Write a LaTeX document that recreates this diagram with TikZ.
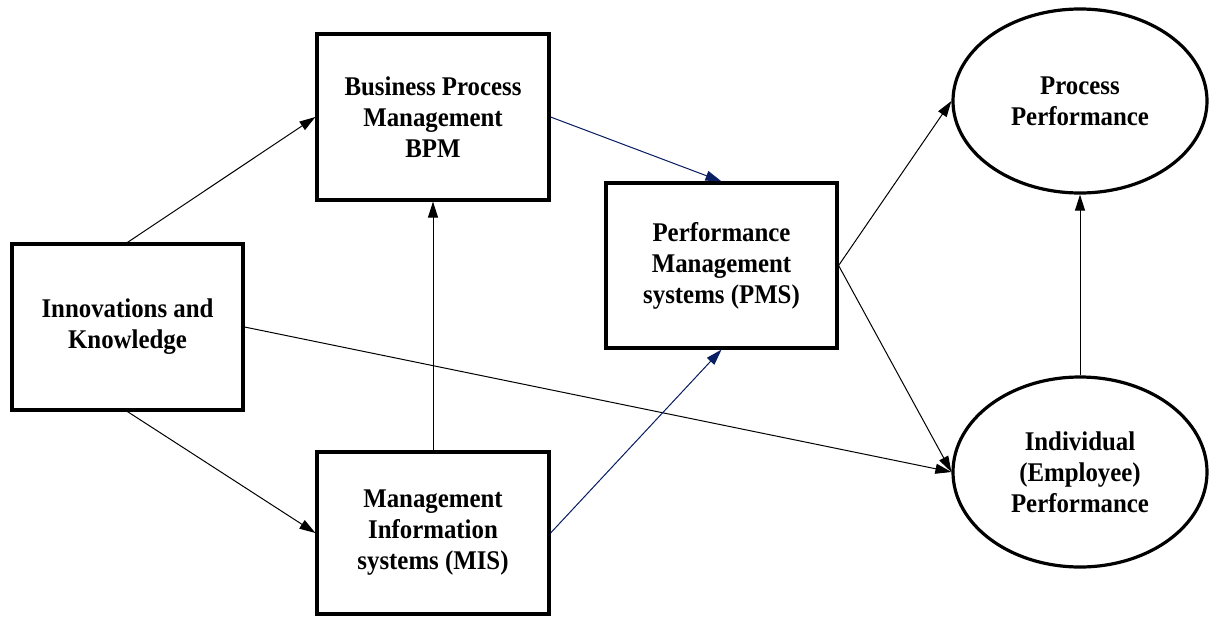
\documentclass[tikz,border=0pt]{standalone}
\usepackage{fontspec}
\setmainfont{Liberation Serif}[FakeStretch=0.92]
\usepackage{tikz}
\usetikzlibrary{arrows.meta}
\usetikzlibrary{shapes.geometric}
\definecolor{navyline}{RGB}{10,30,100}
\tikzset{box/.style={draw=black,line width=1.6pt,rectangle,align=center,inner sep=0pt,font=\fontsize{13.5}{15.5}\selectfont\bfseries}}
\tikzset{oval/.style={draw=black,line width=1.6pt,ellipse,align=center,inner sep=0pt,font=\fontsize{13.5}{15.5}\selectfont\bfseries}}
\tikzset{link/.style={line width=0.5pt,-{Triangle[length=8pt,width=5pt]}}}
\def\bw{116pt}

\begin{document}
\begin{tikzpicture}[x=0.5pt,y=-0.5pt]
          \useasboundingbox (0,0) rectangle (1210,616);

          %四角の箱
          \node[box, minimum width=115.5pt, minimum height=83pt] (innov) at (127.5, 327) {Innovations and\\Knowledge};
          \node[box, minimum width=\bw, minimum height=83pt] (bpm) at (433, 117) {Business Process\\Management\\BPM};
          \node[box, minimum width=\bw, minimum height=81pt] (mis) at (433, 533) {Management\\Information\\systems (MIS)};
          \node[box, minimum width=115.5pt, minimum height=82.5pt] (pms) at (721.5, 265.5) {Performance\\Management\\systems (PMS)};

          %楕円
          \node[oval, minimum width=127pt, minimum height=92pt] (proc) at (1080, 101) {Process\\Performance};
          \node[oval, minimum width=127pt, minimum height=95pt] (indiv) at (1080, 472) {Individual\\(Employee)\\Performance};

          %矢印
          \draw[link] (innov.north) -- (bpm.west);
          \draw[link] (innov.south) -- (mis.west);
          \draw[link] (innov.east) -- (indiv.west);
          \draw[link] (mis.north) -- (bpm.south);
          \draw[link, draw=navyline, fill=navyline] (bpm.east) -- (pms.north);
          \draw[link, draw=navyline, fill=navyline] (mis.east) -- (pms.south);
          \draw[link] (pms.east) -- (proc.west);
          \draw[link] (pms.east) -- (indiv.west);
          \draw[link] (indiv.north) -- (proc.south);

        \end{tikzpicture}
\end{document}
